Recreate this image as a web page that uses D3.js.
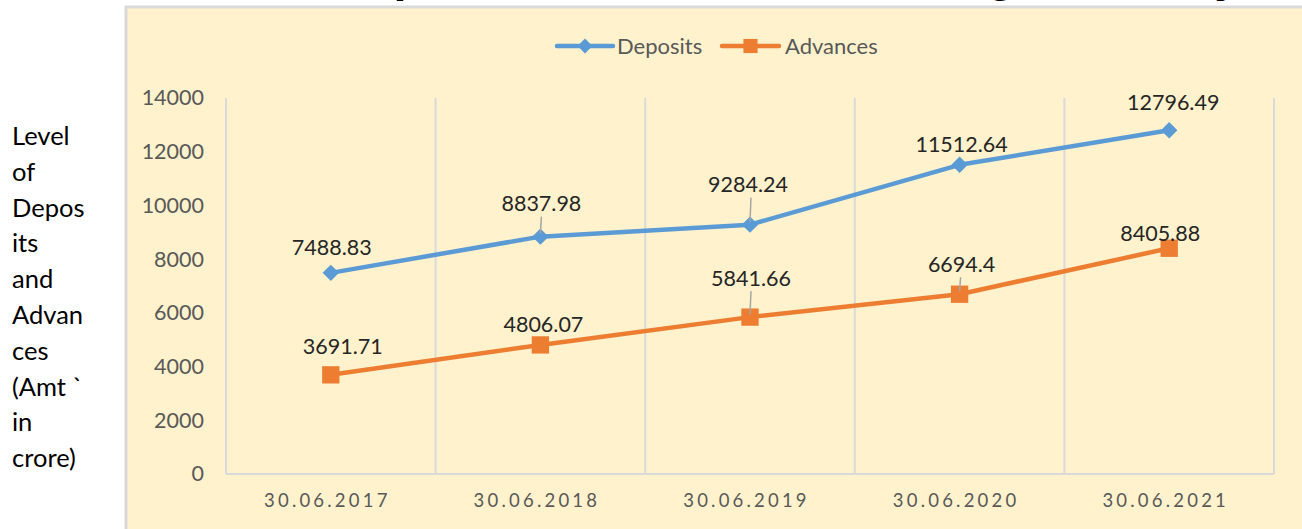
<!DOCTYPE html>
<html>
<head>
<meta charset="utf-8">
<script src="https://cdn.jsdelivr.net/npm/d3@7"></script>
<style>
  html, body { margin: 0; padding: 0; background: #ffffff; overflow: hidden; }
  svg { display: block; }
</style>
</head>
<body>
<svg id="chart" width="1302" height="529"></svg>
<script>
// ---- data ----
const categories = ["30.06.2017", "30.06.2018", "30.06.2019", "30.06.2020", "30.06.2021"];
const deposits = [7488.83, 8837.98, 9284.24, 11512.64, 12796.49];
const advances = [3691.71, 4806.07, 5841.66, 6694.4, 8405.88];
const yTicks = [0, 2000, 4000, 6000, 8000, 10000, 12000, 14000];
const seriesNames = ["Deposits", "Advances"];
const titleText = "Level of Deposits and Advances during the Study Period";
const yTitleLines = ["Level", "of", "Depos", "its", "and", "Advan", "ces", "(Amt `", "in", "crore)"];

// ---- layout / style ----
const W = 1302, H = 529;
const plot = { left: 226, right: 1274, top: 98, bottom: 474 };
const colors = { Deposits: "#5B9BD5", Advances: "#ED7D31" };
const gridColor = "#D9D9D9";
const labelOffsets = {
  Deposits: [[1, -25], [1, -33], [-2, -40], [2, -20], [4, -28]],
  Advances: [[12, -28], [3, -20], [1, -39], [2, -30], [-9, -15]]
};
const leaderSeries = { Deposits: [false, true, true, false, false], Advances: [false, false, true, true, false] };
const FONT = "Lato, 'Open Sans', sans-serif";

const svg = d3.select("#chart");

// title (mostly cut off above the view)
const title = svg.append("text")
  .attr("x", 0).attr("y", -9)
  .attr("font-family", "'Liberation Sans', Arial, sans-serif")
  .attr("font-weight", "bold").attr("font-size", 40)
  .attr("fill", "#000").text(titleText);
{
  const node = title.node();
  const pIdx = titleText.indexOf("Deposits") + 2;
  const yIdx = titleText.indexOf("Study") + 4;
  const p0 = node.getStartPositionOfChar(pIdx).x;
  const y0 = node.getStartPositionOfChar(yIdx).x;
  const fs = 40 * (1223 - 402) / (y0 - p0);
  title.attr("font-size", fs);
  const p1 = node.getStartPositionOfChar(pIdx).x;
  const pw = node.getExtentOfChar(pIdx).width;
  title.attr("x", 402 - (p1 + pw * 0.3));
}

// chart area
svg.append("rect")
  .attr("x", 126).attr("y", 7).attr("width", W).attr("height", H)
  .attr("fill", "#FFF2CC").attr("stroke", gridColor).attr("stroke-width", 3);

// scales
const xBand = d3.scaleBand().domain(categories).range([plot.left, plot.right]);
const xc = c => xBand(c) + xBand.bandwidth() / 2;
const y = d3.scaleLinear().domain([0, 14000]).range([plot.bottom, plot.top]);

// vertical gridlines (category boundaries)
const bounds = categories.map(c => xBand(c)).concat([plot.right]);
svg.append("g").selectAll("line").data(bounds).join("line")
  .attr("x1", d => d).attr("x2", d => d)
  .attr("y1", plot.top).attr("y2", plot.bottom)
  .attr("stroke", gridColor).attr("stroke-width", 2);

// bottom axis
const xAxis = d3.axisBottom(d3.scalePoint().domain(categories).range([xc(categories[0]), xc(categories[4])]))
  .tickSize(0).tickPadding(20);
const gx = svg.append("g").attr("transform", `translate(0,${plot.bottom})`).call(xAxis);
gx.select(".domain").remove();
gx.append("line").attr("x1", plot.left).attr("x2", plot.right).attr("y1", 0).attr("y2", 0)
  .attr("stroke", gridColor).attr("stroke-width", 2);
gx.selectAll(".tick text").attr("font-family", FONT).attr("font-size", 18.5)
  .attr("letter-spacing", 3.2).attr("fill", "#595959").attr("dx", -4);

// left axis
const yAxis = d3.axisLeft(y).tickValues(yTicks).tickSize(0).tickPadding(22).tickFormat(d3.format("d"));
const gy = svg.append("g").attr("transform", `translate(${plot.left},0)`).call(yAxis);
gy.select(".domain").remove();
gy.selectAll("text").attr("font-family", FONT).attr("font-size", 21.5).attr("fill", "#595959");

// y axis title
svg.append("g").selectAll("text").data(yTitleLines).join("text")
  .attr("x", 12).attr("y", (d, i) => 145 + i * 35.8)
  .attr("font-family", FONT).attr("font-size", 25.5).attr("fill", "#000")
  .text(d => d);

// series
const seriesData = { Deposits: deposits, Advances: advances };
const line = d3.line().x((d, i) => xc(categories[i])).y(d => y(d));
const markerPath = name => name === "Deposits"
  ? d3.symbol(d3.symbolSquare, 135)()
  : d3.symbol(d3.symbolSquare, 300)();
const markerRot = name => name === "Deposits" ? " rotate(45)" : "";
seriesNames.forEach(name => {
  const vals = seriesData[name];
  const g = svg.append("g");
  g.append("path").datum(vals).attr("d", line)
    .attr("fill", "none").attr("stroke", colors[name]).attr("stroke-width", 4.5)
    .attr("stroke-linejoin", "round").attr("stroke-linecap", "round");
  g.selectAll("path.m").data(vals).join("path").attr("class", "m")
    .attr("transform", (d, i) => `translate(${xc(categories[i])},${y(d)})${markerRot(name)}`)
    .attr("d", markerPath(name))
    .attr("fill", colors[name]);
  // leader lines
  g.selectAll("line.lead").data(vals.map((v, i) => ({ v, i })).filter(o => leaderSeries[name][o.i]))
    .join("line").attr("class", "lead")
    .attr("x1", o => xc(categories[o.i]) + 1).attr("x2", o => xc(categories[o.i]))
    .attr("y1", o => y(o.v) + labelOffsets[name][o.i][1] + 13)
    .attr("y2", o => y(o.v) - 3)
    .attr("stroke", "#A6A6A6").attr("stroke-width", 1.5);
  // labels
  g.selectAll("text").data(vals).join("text")
    .attr("x", (d, i) => xc(categories[i]) + labelOffsets[name][i][0])
    .attr("y", (d, i) => y(d) + labelOffsets[name][i][1])
    .attr("dy", "0.35em").attr("text-anchor", "middle")
    .attr("font-family", FONT).attr("font-size", 21.5).attr("fill", "#262626")
    .text(d => String(d));
});

// legend
const legend = svg.append("g");
const legItems = [
  { name: "Deposits", x0: 557, x1: 613, tx: 617 },
  { name: "Advances", x0: 722, x1: 779, tx: 785 }
];
legItems.forEach(it => {
  legend.append("line").attr("x1", it.x0).attr("x2", it.x1).attr("y1", 46).attr("y2", 46)
    .attr("stroke", colors[it.name]).attr("stroke-width", 4.5).attr("stroke-linecap", "round");
  legend.append("path").attr("transform", `translate(${(it.x0 + it.x1) / 2},46)${markerRot(it.name)}`)
    .attr("d", it.name === "Deposits" ? d3.symbol(d3.symbolSquare, 110)() : d3.symbol(d3.symbolSquare, 200)())
    .attr("fill", colors[it.name]);
  legend.append("text").attr("x", it.tx).attr("y", 46).attr("dy", "0.35em")
    .attr("font-family", FONT).attr("font-size", 22).attr("fill", "#595959").text(it.name);
});
</script>
</body>
</html>
